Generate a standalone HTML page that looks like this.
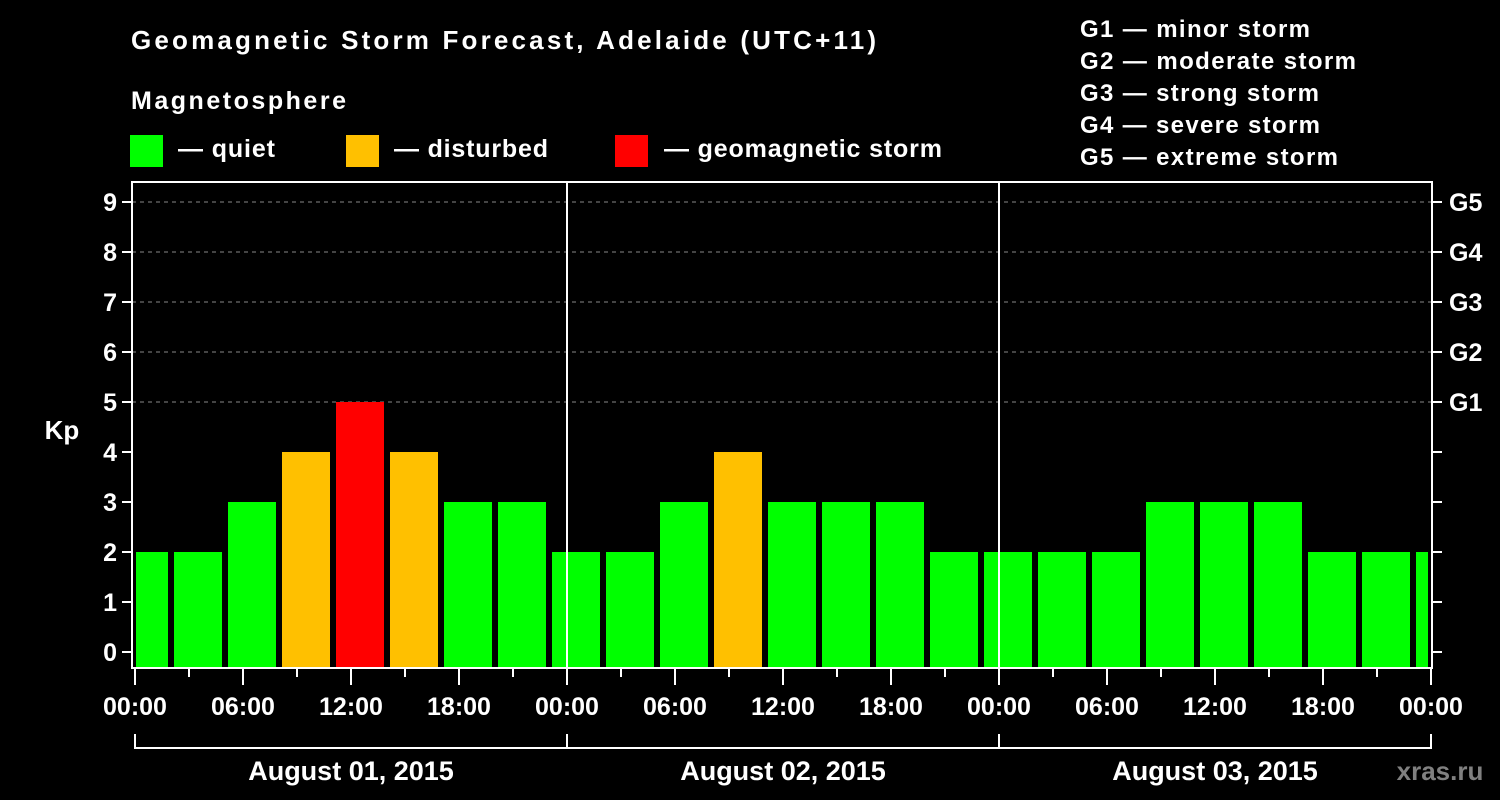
<!DOCTYPE html>
<html><head><meta charset="utf-8"><style>
html,body{margin:0;padding:0;background:#000;}
svg{display:block;font-family:"Liberation Sans",Arial,sans-serif;font-weight:bold;}
</style></head><body>
<svg id="chart" width="1500" height="800" viewBox="0 0 1500 800" xmlns="http://www.w3.org/2000/svg">
<rect x="0" y="0" width="1500" height="800" fill="#000"/>
<text x="131" y="49" fill="#fff" font-size="26" textLength="745">Geomagnetic Storm Forecast, Adelaide (UTC+11)</text>
<text x="131" y="109" fill="#fff" font-size="25" textLength="215">Magnetosphere</text>
<g>
<g><rect x="130" y="135" width="33" height="32" fill="#00ff00"/><text x="178" y="157" fill="#fff" font-size="25" textLength="97">— quiet</text></g>
<g><rect x="346" y="135" width="33" height="32" fill="#ffc000"/><text x="394" y="157" fill="#fff" font-size="25" textLength="154">— disturbed</text></g>
<g><rect x="615" y="135" width="33" height="32" fill="#ff0000"/><text x="664" y="157" fill="#fff" font-size="25" textLength="278">— geomagnetic storm</text></g>
</g>
<g fill="#fff" font-size="24">
<text x="1080" y="37" textLength="230">G1 — minor storm</text>
<text x="1080" y="69" textLength="276">G2 — moderate storm</text>
<text x="1080" y="101" textLength="239">G3 — strong storm</text>
<text x="1080" y="133" textLength="240">G4 — severe storm</text>
<text x="1080" y="165" textLength="258">G5 — extreme storm</text>
</g>
<g id="grid"></g>
<g id="bars"></g>
<g id="axes"></g>
<text x="62" y="439" fill="#fff" font-size="26" text-anchor="middle">Kp</text>
<text x="1440" y="780" fill="#808080" font-size="26" text-anchor="middle">xras.ru</text>
</svg>
<script>
const kpValues = [2,2,3,4,5,4,3,3, 2,2,3,4,3,3,3,2, 2,2,2,3,3,3,2,2, 2];
const yTicks = [0,1,2,3,4,5,6,7,8,9];
const gLevels = [5,6,7,8,9];
const gLabels = ["G1","G2","G3","G4","G5"];
const xTickLabels = ["00:00","06:00","12:00","18:00","00:00","06:00","12:00","18:00","00:00","06:00","12:00","18:00","00:00"];
const dayLabels = ["August 01, 2015","August 02, 2015","August 03, 2015"];

const NS="http://www.w3.org/2000/svg";
const X0=135, PX_PER_HOUR=18, Y0=652, PX_PER_KP=50;
const L=132, R=1432, T=182, B=668;
const xs=h=>X0+h*PX_PER_HOUR;
const ys=v=>Y0-v*PX_PER_KP;
function mk(tag,attrs,parent){const e=document.createElementNS(NS,tag);for(const k in attrs)e.setAttribute(k,attrs[k]);parent.appendChild(e);return e;}
const grid=document.getElementById('grid'),bars=document.getElementById('bars'),axes=document.getElementById('axes');

gLevels.forEach(v=>{
  const l=mk('line',{x1:L,x2:R,y1:ys(v),y2:ys(v),stroke:'#888','stroke-width':1,'stroke-dasharray':'4,4'},grid);
  
  
});

function color(v){return v>=5?'#ff0000':(v>=4?'#ffc000':'#00ff00');}
kpValues.forEach((v,i)=>{
  const c=i*3+0.5;
  let x1=xs(c)-24, x2=xs(c)+24;
  x1=Math.max(x1,L+4); x2=Math.min(x2,R-4);
  const r=mk('rect',{x:x1,y:ys(v),width:x2-x1,height:B-ys(v),fill:color(v)},bars);
  
  
});

const fr=mk('rect',{x:L,y:T,width:R-L,height:B-T,fill:'none',stroke:'#fff','stroke-width':2},axes);


[1,2].forEach(d=>{
  const l=mk('line',{x1:xs(d*24),x2:xs(d*24),y1:T,y2:B,stroke:'#fff','stroke-width':2},axes);
  
  
});
yTicks.forEach(v=>{
  mk('line',{x1:L-10,x2:L,y1:ys(v),y2:ys(v),stroke:'#fff','stroke-width':2},axes);
  mk('line',{x1:R,x2:R+10,y1:ys(v),y2:ys(v),stroke:'#fff','stroke-width':2},axes);
  const t=mk('text',{x:117,y:ys(v)+9,fill:'#fff','font-size':25,'text-anchor':'end'},axes);
  t.textContent=v;
  
  
});
gLevels.forEach((v,i)=>{
  const t=mk('text',{x:1449,y:ys(v)+9,fill:'#fff','font-size':25},axes);
  t.textContent=gLabels[i];
  
  
});
for(let h=0;h<=72;h+=3){
  const major=h%6===0;
  mk('line',{x1:xs(h),x2:xs(h),y1:B,y2:B+(major?17:9),stroke:'#fff','stroke-width':2},axes);
}
xTickLabels.forEach((s,i)=>{
  const t=mk('text',{x:xs(i*6),y:715,fill:'#fff','font-size':25,'text-anchor':'middle'},axes);
  t.textContent=s;
  
  
});
const bl=mk('line',{x1:xs(0),x2:xs(72),y1:748,y2:748,stroke:'#fff','stroke-width':2},axes);


for(let d=0;d<=3;d++) mk('line',{x1:xs(d*24),x2:xs(d*24),y1:734,y2:749,stroke:'#fff','stroke-width':2},axes);
dayLabels.forEach((s,i)=>{
  const t=mk('text',{x:xs(i*24+12),y:780,fill:'#fff','font-size':27,'text-anchor':'middle'},axes);
  t.textContent=s;
  
  
});
</script>
</body></html>
